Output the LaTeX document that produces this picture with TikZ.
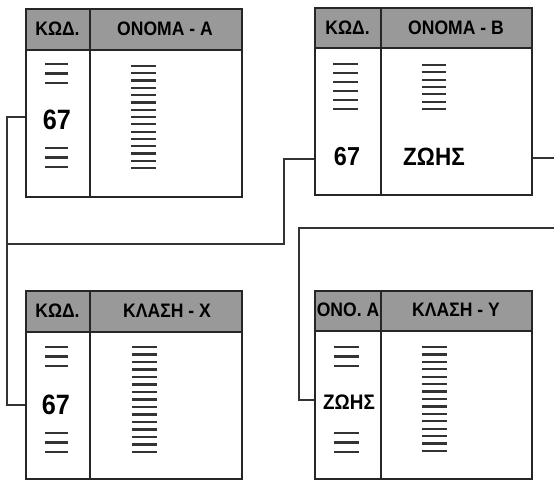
\documentclass[tikz,border=0pt]{standalone}
\usepackage{fontspec}
\setmainfont{Liberation Sans}
\newfontfamily\condfont[FakeStretch=0.9]{Liberation Sans}
\newfontfamily\hdfont[FakeStretch=0.9]{Liberation Sans}
\newcommand\mybars[5]{\foreach \i in {0,...,#4}{\draw[bar] (#1,{#3+\i*#5}) -- (#2,{#3+\i*#5});}}
\begin{document}
\begin{tikzpicture}[x=1pt,y=-1pt,
  tbl/.style={draw=black!85, line width=1.8pt, inner sep=0, anchor=north west},
  hdr/.style={fill=black!40},
  rule/.style={draw=black!85, line width=1.8pt},
  hd/.style={font=\hdfont\fontsize{19.5}{19.5}\selectfont\bfseries, inner sep=0},
  val/.style={font=\condfont\fontsize{28}{28}\selectfont\bfseries, inner sep=0},
  conn/.style={draw=black!80, line width=1.6pt},
  bar/.style={line width=2.2pt, black!80}]
\useasboundingbox (0,0) rectangle (554,481);
\fill[white] (0,0) rectangle (554,481);

% Table A
\fill[hdr] (25,8) rectangle (241,50);
\node[tbl, minimum width=216pt, minimum height=188pt] (A) at (25,8) {};
\draw[rule] (25,50) -- (241,50);
\draw[rule] (90,8) -- (90,196);
\node[hd] (Ak) at (57.5,29) {ΚΩΔ.};
\node[hd] (An) at (165,29) {ΟΝΟΜΑ - Α};
\mybars{45}{68}{64}{2}{9.5}
\mybars{45}{68}{148}{2}{9.5}
\mybars{131}{156}{66}{14}{7.29}
\node[val] (A67) at (57,120) {67};

% Table B
\fill[hdr] (314,7) rectangle (531,48);
\node[tbl, minimum width=217pt, minimum height=187pt] (B) at (314,7) {};
\draw[rule] (314,48) -- (531,48);
\draw[rule] (381,7) -- (381,194);
\node[hd] (Bk) at (347.5,28) {ΚΩΔ.};
\node[hd] (Bn) at (456,28) {ΟΝΟΜΑ - Β};
\mybars{333}{358}{64}{5}{9}
\mybars{422}{446}{65}{6}{7.33}
\node[val, font=\condfont\fontsize{26}{26}\selectfont\bfseries] (B67) at (347,157) {67};
\node[val, font=\condfont\fontsize{25}{25}\selectfont\bfseries] (Bz) at (434,157) {ΖΩΗΣ};

% Table X
\fill[hdr] (25,290) rectangle (241,332);
\node[tbl, minimum width=216pt, minimum height=188pt] (X) at (25,290) {};
\draw[rule] (25,332) -- (241,332);
\draw[rule] (90,290) -- (90,478);
\node[hd] (Xk) at (57.5,311) {ΚΩΔ.};
\node[hd] (Xn) at (167,311) {ΚΛΑΣΗ - Χ};
\mybars{45}{68}{347}{2}{9.5}
\mybars{45}{68}{433}{2}{9.5}
\mybars{132}{157}{347}{14}{7.5}
\node[val] (X67) at (56,405) {67};

% Table Y
\fill[hdr] (314,290) rectangle (531,331);
\node[tbl, minimum width=217pt, minimum height=188pt] (Y) at (314,290) {};
\draw[rule] (314,331) -- (531,331);
\draw[rule] (381,290) -- (381,478);
\node[hd] (Yk) at (348,310) {ΟΝΟ. Α};
\node[hd] (Yn) at (456,310) {ΚΛΑΣΗ - Υ};
\mybars{334}{359}{347}{2}{9.5}
\mybars{334}{359}{433}{2}{9.5}
\mybars{422}{447}{347}{14}{7.43}
\node[val, font=\condfont\fontsize{21}{21}\selectfont\bfseries] (Yz) at (349,402) {ΖΩΗΣ};

% connector points
\coordinate (pA) at (A.west |- 0,117);
\coordinate (pX) at (X.west |- 0,405);
\coordinate (pB) at (B.west |- 0,159);
\coordinate (pBr) at (B.east |- 0,158);
\coordinate (pY) at (Y.west |- 0,400);
\coordinate (j) at (7,244);

\draw[conn] (pA) -| (j) |- (pX);
\draw[conn] (pB) -| (284,244) -- (j);
\draw[conn] (pBr) -| (556,228) -| (299,400) -- (pY);
\end{tikzpicture}
\end{document}
